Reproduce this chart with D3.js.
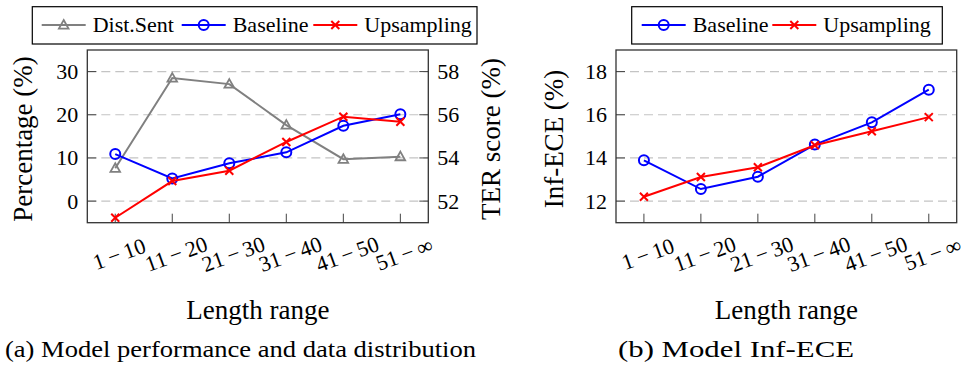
<!DOCTYPE html>
<html>
<head>
<meta charset="utf-8">
<script src="https://cdn.jsdelivr.net/npm/d3@7/dist/d3.min.js"></script>
<style>
  body { margin: 0; background: #fff; }
</style>
</head>
<body>
<script>
// data
const categories = ['1\u2009\u2212\u200910', '11\u2009\u2212\u200920', '21\u2009\u2212\u200930',
                    '31\u2009\u2212\u200940', '41\u2009\u2212\u200950', '51\u2009\u2212\u2009\u221e']
const distSent = [7.6, 28.5, 27.1, 17.6, 9.7, 10.3]
const terBaseline = [54.18, 53.05, 53.75, 54.26, 55.49, 56.02]
const terUpsampling = [51.23, 52.93, 53.41, 54.74, 55.91, 55.68]
const eceBaseline = [13.89, 12.56, 13.13, 14.62, 15.65, 17.16]
const eceUpsampling = [12.2, 13.12, 13.57, 14.59, 15.24, 15.89]
const pctTicks = [0, 10, 20, 30]
const terTicks = [52, 54, 56, 58]
const eceTicks = [12, 14, 16, 18]

const w = 965
const h = 373
const plotTop = 50
const plotBottom = 222.7
const tickLen = 9

const svg = d3.select('body').append('svg')
    .attr('width', w)
    .attr('height', h)

// every text goes through here so the serif face is set on the element itself
function label(g, size) {
    return g.append('text')
        .style('font-family', "'Liberation Serif'")
        .style('font-size', size + 'px')
        .style('fill', '#000')
}

// markers
function drawMarks(g, pts, kind, color) {
    if (kind === 'circle') {
        g.selectAll(null).data(pts).enter().append('circle')
            .attr('cx', d => d[0]).attr('cy', d => d[1]).attr('r', 5)
            .style('fill', 'none').style('stroke', color).style('stroke-width', 2)
    } else if (kind === 'cross') {
        g.selectAll(null).data(pts).enter().append('path')
            .attr('d', d => `M${d[0] - 4},${d[1] - 4}L${d[0] + 4},${d[1] + 4}M${d[0] - 4},${d[1] + 4}L${d[0] + 4},${d[1] - 4}`)
            .style('stroke', color).style('stroke-width', 2)
    } else {
        g.selectAll(null).data(pts).enter().append('path')
            .attr('d', d => `M${d[0]},${d[1] - 5}L${d[0] + 4.8},${d[1] + 3.6}L${d[0] - 4.8},${d[1] + 3.6}Z`)
            .style('fill', 'none').style('stroke', color).style('stroke-width', 1.8)
    }
}

function drawSeries(g, x, y, values, kind, color) {
    const pts = values.map((v, i) => [x(categories[i]), y(v)])
    g.append('path')
        .attr('d', d3.line()(pts))
        .style('fill', 'none')
        .style('stroke', color)
        .style('stroke-width', 2)
    drawMarks(g, pts, kind, color)
}

function legendItem(g, x0, text, kind, color) {
    g.append('line')
        .attr('x1', x0).attr('x2', x0 + 44)
        .attr('y1', 25).attr('y2', 25)
        .style('stroke', color).style('stroke-width', 2)
    drawMarks(g, [[x0 + 22, 25]], kind, color)
    label(g, 22)
        .attr('x', x0 + 51).attr('y', 25)
        .attr('dy', '0.33em')
        .text(text)
}

// one panel: grid, x axis, left axis
function panel(x0, x1, yScale, ticks, yLabel, yLabelX) {
    const g = svg.append('g')
    const x = d3.scalePoint().domain(categories).range([x0, x1]).padding(0.49)

    // grid
    g.selectAll(null).data(ticks).enter().append('line')
        .attr('x1', x0).attr('x2', x1)
        .attr('y1', d => yScale(d)).attr('y2', d => yScale(d))
        .style('stroke', '#c4c4c4').style('stroke-width', 1.2)
        .style('stroke-dasharray', '9,5')

    // x ticks inside bottom
    g.selectAll(null).data(categories).enter().append('line')
        .attr('x1', d => x(d)).attr('x2', d => x(d))
        .attr('y1', plotBottom).attr('y2', plotBottom - tickLen)
        .style('stroke', '#444').style('stroke-width', 1)

    // left y ticks inside
    g.selectAll(null).data(ticks).enter().append('line')
        .attr('x1', x0).attr('x2', x0 + tickLen)
        .attr('y1', d => yScale(d)).attr('y2', d => yScale(d))
        .style('stroke', '#444').style('stroke-width', 1)

    ticks.forEach(t => {
        label(g, 22)
            .attr('x', x0 - 9).attr('y', yScale(t))
            .attr('dy', '0.34em')
            .attr('text-anchor', 'end')
            .text(t)
    })

    // rotated x tick labels
    categories.forEach(c => {
        label(g, 22)
            .attr('transform', `translate(${x(c) + 4},${254}) rotate(-20)`)
            .attr('text-anchor', 'middle')
            .attr('dy', '0.34em')
            .text(c)
    })

    label(g, 27)
        .attr('x', (x0 + x1) / 2).attr('y', 319)
        .attr('text-anchor', 'middle')
        .text('Length range')

    label(g, 27)
        .attr('transform', `translate(${yLabelX},${139}) rotate(-90)`)
        .attr('text-anchor', 'middle')
        .text(yLabel)

    return { g, x }
}

function frame(x0, x1) {
    svg.append('rect')
        .attr('x', x0).attr('y', plotTop)
        .attr('width', x1 - x0).attr('height', plotBottom - plotTop)
        .style('fill', 'none').style('stroke', '#333').style('stroke-width', 1.3)
}

// ---- panel (a)
const aX0 = 87.3, aX1 = 428.3
const yPct = d3.scaleLinear().domain([-5, 35]).range([plotBottom, plotTop])
const yTer = d3.scaleLinear().domain([51, 59]).range([plotBottom, plotTop])
const a = panel(aX0, aX1, yPct, pctTicks, 'Percentage (%)', 32)

// right axis of panel (a)
a.g.selectAll(null).data(terTicks).enter().append('line')
    .attr('x1', aX1).attr('x2', aX1 - tickLen)
    .attr('y1', d => yTer(d)).attr('y2', d => yTer(d))
    .style('stroke', '#444').style('stroke-width', 1)
terTicks.forEach(t => {
    label(a.g, 22)
        .attr('x', aX1 + 9).attr('y', yTer(t))
        .attr('dy', '0.34em')
        .text(t)
})
label(a.g, 27)
    .attr('transform', `translate(${500},${139}) rotate(-90)`)
    .attr('text-anchor', 'middle')
    .text('TER score (%)')

drawSeries(a.g, a.x, yPct, distSent, 'triangle', '#808080')
drawSeries(a.g, a.x, yTer, terBaseline, 'circle', '#0000ff')
drawSeries(a.g, a.x, yTer, terUpsampling, 'cross', '#ff0000')
frame(aX0, aX1)

// legend (a)
const legA = svg.append('g')
legA.append('rect')
    .attr('x', 32.3).attr('y', 6.7).attr('width', 444.7).attr('height', 37.3)
    .style('fill', '#fff').style('stroke', '#000').style('stroke-width', 1.2)
legendItem(legA, 41.7, 'Dist.Sent', 'triangle', '#808080')
legendItem(legA, 181.7, 'Baseline', 'circle', '#0000ff')
legendItem(legA, 313.3, 'Upsampling', 'cross', '#ff0000')

// ---- panel (b)
const bX0 = 616, bX1 = 956.7
const yEce = d3.scaleLinear().domain([11, 19]).range([plotBottom, plotTop])
const b = panel(bX0, bX1, yEce, eceTicks, 'Inf-ECE (%)', 563)
drawSeries(b.g, b.x, yEce, eceBaseline, 'circle', '#0000ff')
drawSeries(b.g, b.x, yEce, eceUpsampling, 'cross', '#ff0000')
frame(bX0, bX1)

const legB = svg.append('g')
legB.append('rect')
    .attr('x', 631.7).attr('y', 6.7).attr('width', 310.6).attr('height', 37.3)
    .style('fill', '#fff').style('stroke', '#000').style('stroke-width', 1.2)
legendItem(legB, 641.7, 'Baseline', 'circle', '#0000ff')
legendItem(legB, 772.3, 'Upsampling', 'cross', '#ff0000')

// captions
label(svg, 24)
    .attr('x', 5).attr('y', 357)
    .attr('textLength', 471).attr('lengthAdjust', 'spacingAndGlyphs')
    .text('(a) Model performance and data distribution')
label(svg, 24)
    .attr('x', 618).attr('y', 357)
    .attr('textLength', 236).attr('lengthAdjust', 'spacingAndGlyphs')
    .text('(b) Model Inf-ECE')
</script>
</body>
</html>
